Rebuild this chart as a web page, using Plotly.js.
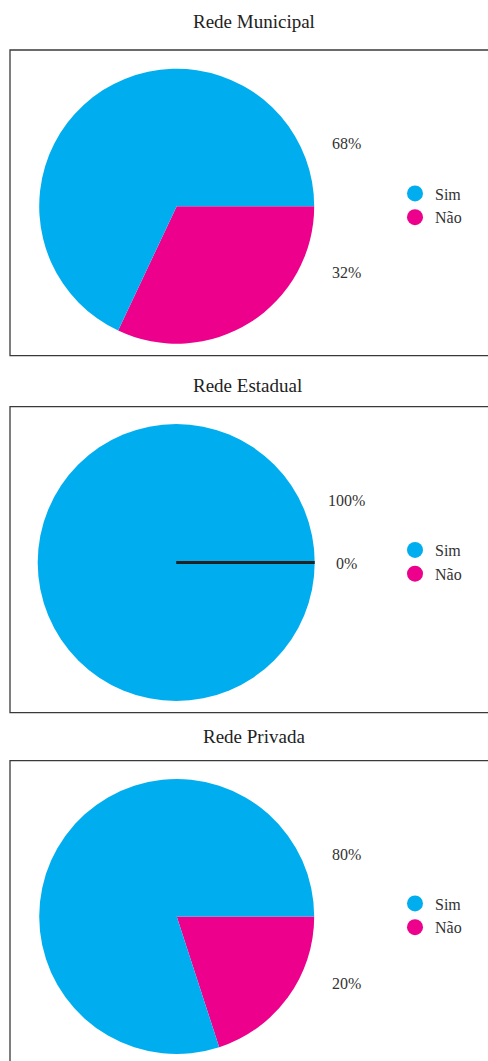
<!DOCTYPE html>
<html>
<head>
<meta charset="utf-8">
<script src="https://cdn.plot.ly/plotly-3.0.1.min.js"></script>
<style>
html,body{margin:0;padding:0;background:#fff;}
#chart{width:488px;height:1061px;}
</style>
</head>
<body>
<div id="chart"></div>
<script>
// ---- data ----
const categories = ['Sim', 'Não'];
const panelTitles = ['Rede Municipal', 'Rede Estadual', 'Rede Privada'];
const municipal = [68, 32];
const estadual = [100, 0];
const privada = [80, 20];
const colors = ['#00AEEF', '#EC008C'];

const W = 488, H = 1061;
const px = x => x / W;
const py = y => 1 - y / H;

// panel geometry (pixels)
const panels = [
  {vals: municipal, cx: 176.7, cy: 206.2, r: 137.5, box: [50, 355.7], title: {x: 254, y: 22},
   labY: [143, 272], legY: 205.5},
  {vals: estadual, cx: 176.2, cy: 562.5, r: 138.5, box: [406.7, 712.7], title: {x: 247.5, y: 385},
   labY: [500, 563.5], legY: 562},
  {vals: privada, cx: 176.7, cy: 916.5, r: 137.5, box: [760.7, 1075], title: {x: 254, y: 736},
   labY: [854, 983], legY: 915.5}
];

const font = '"Liberation Serif", "Times New Roman", serif';
const traces = [];
const shapes = [];
const annotations = [];
const layout = {
  width: W, height: H,
  margin: {l: 0, r: 0, t: 0, b: 0},
  paper_bgcolor: '#fff', plot_bgcolor: '#fff',
  font: {family: font, color: '#333'},
  xaxis: {visible: false, range: [0, 1]},
  yaxis: {visible: false, range: [0, 1]},
  shapes: shapes, annotations: annotations
};

panels.forEach((p, i) => {
  // slices drawn "Não" first, clockwise from 3 o'clock
  traces.push({
    type: 'pie',
    labels: categories.slice().reverse(),
    values: p.vals.slice().reverse(),
    sort: false,
    direction: 'clockwise',
    rotation: 90,
    textinfo: 'none',
    hoverinfo: 'label+percent',
    marker: {colors: colors.slice().reverse(), line: {width: 0}},
    showlegend: false,
    domain: {x: [px(p.cx - p.r), px(p.cx + p.r)], y: [py(p.cy + p.r), py(p.cy - p.r)]}
  });
  const legName = i === 0 ? 'legend' : 'legend' + (i + 1);
  categories.forEach((c, k) => {
    traces.push({
      type: 'scatter', mode: 'markers', x: [null], y: [null],
      name: c, legend: legName, showlegend: true,
      marker: {color: colors[k], size: 17, symbol: 'circle'},
      hoverinfo: 'skip'
    });
  });
  layout[legName] = {
    x: px(395), xanchor: 'left', y: py(p.legY), yanchor: 'middle',
    bgcolor: 'rgba(0,0,0,0)', borderwidth: 0,
    font: {family: font, size: 16, color: '#333'},
    itemclick: false, itemdoubleclick: false
  };
  shapes.push({type: 'rect', xref: 'paper', yref: 'paper',
    x0: px(10), x1: px(520), y0: py(p.box[1]), y1: py(p.box[0]),
    line: {color: '#3a3a3a', width: 1.3}, fillcolor: 'rgba(0,0,0,0)', layer: 'above'});
  annotations.push({xref: 'paper', yref: 'paper', x: px(p.title.x), y: py(p.title.y),
    xanchor: 'center', yanchor: 'middle', showarrow: false, text: panelTitles[i],
    font: {family: font, size: 19, color: '#222'}});
  p.vals.forEach((v, k) => {
    annotations.push({xref: 'paper', yref: 'paper', x: px(346), y: py(p.labY[k]),
      xanchor: 'center', yanchor: 'middle', showarrow: false, text: v + '%',
      font: {family: font, size: 16, color: '#333'}});
  });
  // zero-size slice drawn as a radial line
  p.vals.forEach((v, k) => {
    if (v === 0) {
      shapes.push({type: 'line', xref: 'paper', yref: 'paper',
        x0: px(p.cx), y0: py(p.cy), x1: px(p.cx + p.r), y1: py(p.cy),
        line: {color: '#222', width: 3}});
    }
  });
});

Plotly.newPlot('chart', traces, layout, {displayModeBar: false, staticPlot: true});
</script>
</body>
</html>
